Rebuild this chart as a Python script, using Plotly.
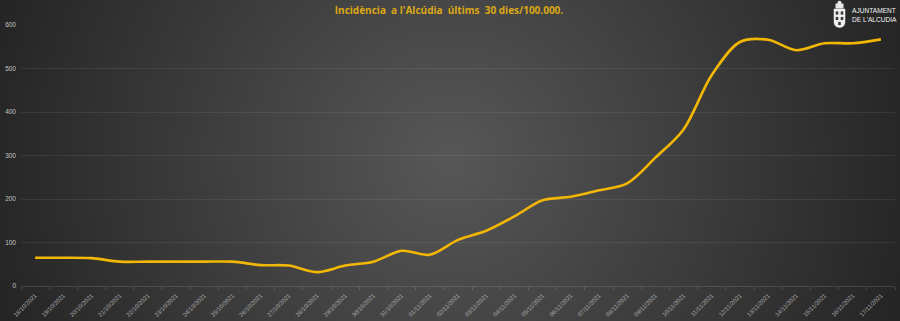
import base64
import plotly.graph_objects as go

dates = ["18/10/2021", "19/10/2021", "20/10/2021", "21/10/2021", "22/10/2021", "23/10/2021",
         "24/10/2021", "25/10/2021", "26/10/2021", "27/10/2021", "28/10/2021", "29/10/2021",
         "30/10/2021", "31/10/2021", "01/11/2021", "02/11/2021", "03/11/2021", "04/11/2021",
         "05/11/2021", "06/11/2021", "07/11/2021", "08/11/2021", "09/11/2021", "10/11/2021",
         "11/11/2021", "12/11/2021", "13/11/2021", "14/11/2021", "15/11/2021", "16/11/2021",
         "17/11/2021"]
incidence = [65, 65, 64, 56, 56, 56, 56, 56, 48, 47, 32, 47, 56, 81, 72, 106, 127, 160,
             197, 205, 220, 236, 295, 360, 485, 561, 566, 542, 558, 558, 567]
y_ticks = [0, 100, 200, 300, 400, 500, 600]

W, H = 900, 321
ml, mr, mt, mb = 21, 5, 25, 35
pw, ph = W - ml - mr, H - mt - mb

svg = (f"<svg xmlns='http://www.w3.org/2000/svg' width='{W}' height='{H}'>"
       "<defs><radialGradient id='g' gradientUnits='userSpaceOnUse' cx='450' cy='160' r='480'>"
       "<stop offset='0' stop-color='#575757'/><stop offset='1' stop-color='#242424'/>"
       "</radialGradient></defs>"
       f"<rect width='{W}' height='{H}' fill='url(#g)'/></svg>")
bg_src = "data:image/svg+xml;base64," + base64.b64encode(svg.encode()).decode()

fig = go.Figure()
fig.add_trace(go.Scatter(
    x=dates, y=incidence, mode="lines",
    line=dict(color="#f2b705", width=2.6, shape="spline", smoothing=0.9),
    hoverinfo="x+y", showlegend=False))

fig.update_layout(
    width=W, height=H,
    margin=dict(l=ml, r=mr, t=mt, b=mb, pad=0, autoexpand=False),
    paper_bgcolor="#2a2a2a", plot_bgcolor="rgba(0,0,0,0)",
    font=dict(family="Liberation Sans, Arial, sans-serif", color="#bdbdbd"),
    images=[dict(source=bg_src, xref="paper", yref="paper",
                 x=-ml / pw, y=1 + mt / ph, sizex=W / pw, sizey=H / ph,
                 xanchor="left", yanchor="top", sizing="stretch", layer="below")],
    title=dict(text="Incidència\u00a0\u00a0a l'Alcúdia\u00a0\u00a0últims\u00a0\u00a030 dies/100.000.",
               x=(449 - ml) / pw, xref="paper", xanchor="center",
               y=1 - 10.5 / H, yref="container", yanchor="middle",
               font=dict(family="Open Sans, sans-serif", size=10,
                         color="#dca816", weight="bold")),
    xaxis=dict(type="category", range=[-0.5, len(dates) - 0.5], showgrid=False,
               tickson="boundaries", ticks="outside", ticklen=3, automargin=False,
               tickcolor="rgba(255,255,255,0.15)", tickangle=-45, ticklabelstandoff=4,
               tickfont=dict(size=6, color="#ababab"),
               showline=False, zeroline=False, fixedrange=True),
    yaxis=dict(range=[0, 600], tickvals=y_ticks, ticks="", ticklabelstandoff=4,
               automargin=False,
               gridcolor="rgba(255,255,255,0.075)", gridwidth=1,
               zeroline=True, zerolinecolor="rgba(255,255,255,0.12)", zerolinewidth=1,
               tickfont=dict(size=6.5, color="#c4c4c4"), showline=False, fixedrange=True),
)

# Logo: simple white crest + text
def px(xp):
    return (xp - ml) / pw

def py(yp):
    return (H - mb - yp) / ph

crest = (f"M {px(834)} {py(9)} L {px(845)} {py(9)} L {px(845)} {py(22)} "
         f"Q {px(845)} {py(27)} {px(839.5)} {py(27.5)} Q {px(834)} {py(27)} {px(834)} {py(22)} Z")
fig.add_shape(type="path", xref="paper", yref="paper", path=crest,
              fillcolor="#f0f0f0", line=dict(color="#f0f0f0", width=0.5))
fig.add_shape(type="rect", xref="paper", yref="paper",
              x0=px(835.5), x1=px(843.5), y0=py(8.5), y1=py(3.5),
              fillcolor="#e8e8e8", line=dict(width=0))
fig.add_shape(type="circle", xref="paper", yref="paper",
              x0=px(837.5), x1=px(841.5), y0=py(4.5), y1=py(0.8),
              fillcolor="#e8e8e8", line=dict(width=0))
for (cx, cy) in [(837, 13), (842, 13), (837, 18.5), (842, 18.5), (839.5, 23.5)]:
    fig.add_shape(type="rect", xref="paper", yref="paper",
                  x0=px(cx - 1.3), x1=px(cx + 1.3), y0=py(cy + 1.6), y1=py(cy - 1.6),
                  fillcolor="#3a3a3a", line=dict(width=0))
fig.add_annotation(text="AJUNTAMENT<br>DE L'ALCUDIA", xref="paper", yref="paper",
                   x=px(849.5), y=py(15.5), xanchor="left", yanchor="middle",
                   showarrow=False, align="left",
                   font=dict(family="Liberation Sans Narrow, Liberation Sans, sans-serif",
                             size=6.6, color="#f2f2f2"))

fig.write_html("out.html")
